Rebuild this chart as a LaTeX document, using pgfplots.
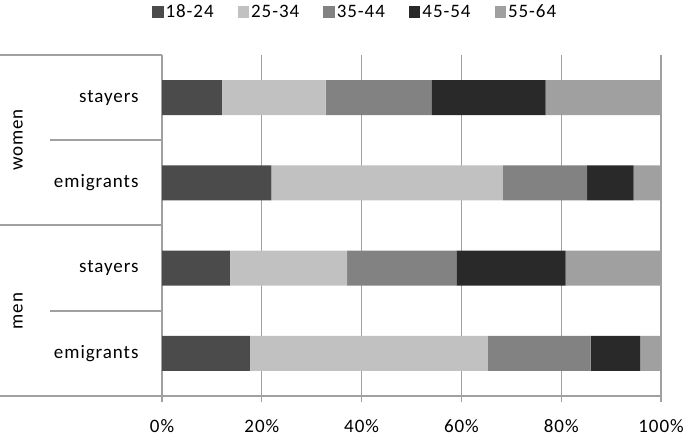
\documentclass[border=0pt]{standalone}
\usepackage{pgfplots}
\pgfplotsset{compat=1.18}
\usepackage{fontspec}
\setmainfont{Carlito}[LetterSpace=5]

\definecolor{cA}{HTML}{4B4B4B}
\definecolor{cB}{HTML}{C1C1C1}
\definecolor{cC}{HTML}{828282}
\definecolor{cD}{HTML}{292929}
\definecolor{cE}{HTML}{A0A0A0}
\definecolor{gridc}{HTML}{A0A0A0}

\newcommand{\lab}{\fontsize{19}{22}\selectfont}

\begin{document}
\begin{tikzpicture}[x=1pt,y=1pt]
    \useasboundingbox (0,0) rectangle (685,437);
    \begin{axis}[
            at={(162pt,41pt)}, anchor=south west,
            scale only axis,
            width=499pt, height=341pt,
            xbar stacked,
            bar width=35pt,
            xmin=0, xmax=100,
            ymin=-0.5, ymax=3.5,
            axis x line*=bottom,
            axis y line*=left,
            axis line style={gridc, line width=1.2pt},
            xtick={0,20,...,100},
            xticklabels={0\%,20\%,40\%,60\%,80\%,100\%},
            xtick align=outside,
            major tick length=6pt,
            xtick style={gridc, line width=1.2pt},
            ytick={0,1,2,3},
            yticklabels={emigrants,stayers,emigrants,stayers},
            ytick style={draw=none},
            yticklabel style={xshift=-20pt},
            xmajorgrids,
            grid style={gridc, line width=1.2pt},
            tick label style={font=\lab, black},
            xticklabel style={yshift=-14pt},
            legend columns=5,
            legend style={draw=none, fill=none, font=\lab,
                at={(0.387,1.126)}, anchor=center,
                /tikz/every even column/.append style={column sep=22pt}},
            legend image code/.code={\fill[#1] (0pt,-6pt) rectangle (11.5pt,6pt);},
        ]
        \addplot [fill=cA, draw=none] coordinates {(17.6,0) (13.6,1) (21.9,2) (12.0,3)};
        \addplot [fill=cB, draw=none] coordinates {(47.7,0) (23.5,1) (46.4,2) (20.8,3)};
        \addplot [fill=cC, draw=none] coordinates {(20.6,0) (21.9,1) (16.9,2) (21.2,3)};
        \addplot [fill=cD, draw=none] coordinates {(9.9,0) (21.9,1) (9.3,2) (22.9,3)};
        \addplot [fill=cE, draw=none] coordinates {(4.2,0) (19.1,1) (5.5,2) (23.1,3)};
        \legend{18-24,25-34,35-44,45-54,55-64}
    \end{axis}
    % category box on the left
    \begin{scope}[gridc, line width=1.2pt]
        \draw (0,382) -- (162,382);
        \draw (0,212) -- (162,212);
        \draw (0,41) -- (162,41);
        \draw (50,297) -- (162,297);
        \draw (50,126) -- (162,126);
    \end{scope}
    \node[rotate=90, font=\lab] at (18,297) {women};
    \node[rotate=90, font=\lab] at (18,126) {men};
\end{tikzpicture}
\end{document}
